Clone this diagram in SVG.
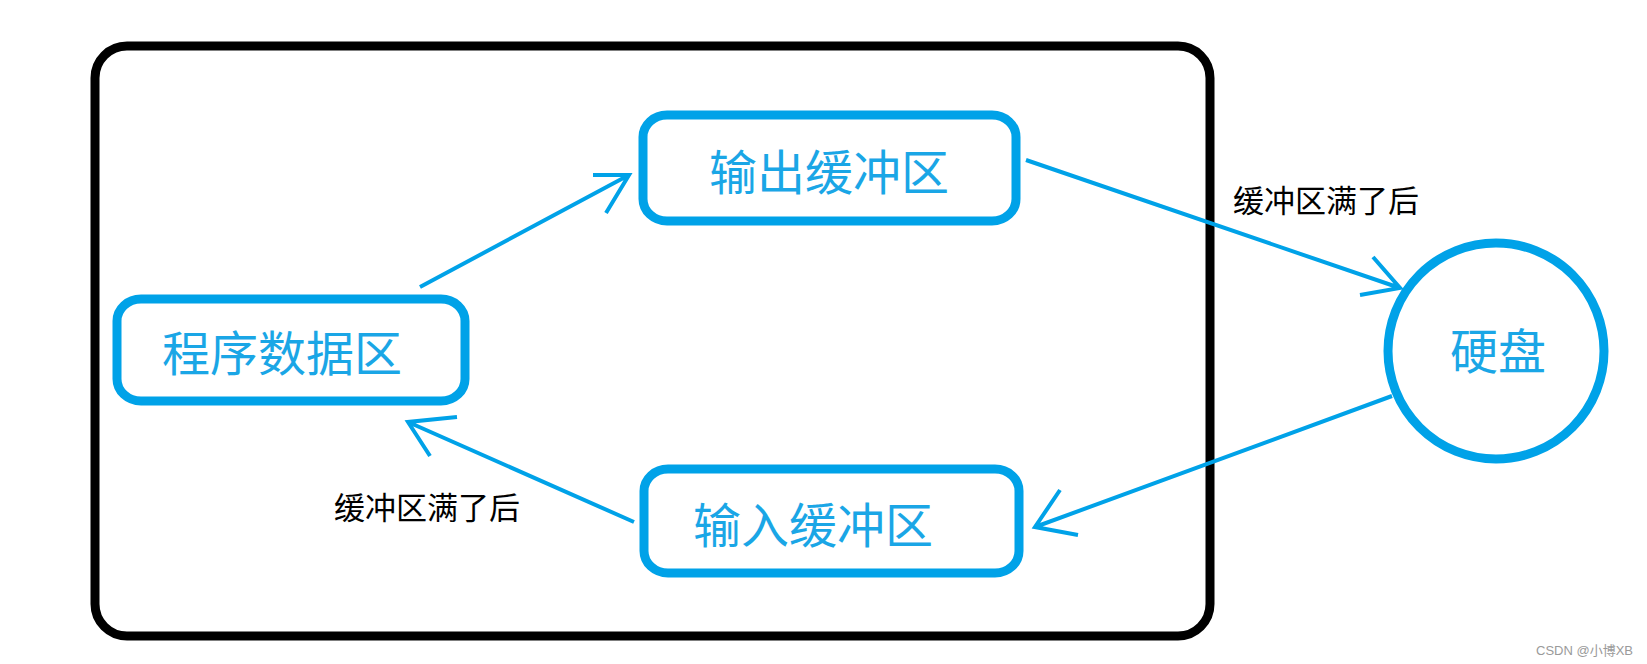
<svg xmlns="http://www.w3.org/2000/svg" width="1647" height="664" viewBox="0 0 1647 664">
<style>
.frame{fill:none;stroke:#000;stroke-width:9}
.node{fill:none;stroke:#00A2E8;stroke-width:9}
.ntext{font-family:"Noto Sans CJK SC",sans-serif;font-size:48px;fill:#1aa6e6;text-anchor:middle}
.lbl{font-family:"Noto Sans CJK SC",sans-serif;font-size:31px;fill:#000;text-anchor:middle}
.conn{fill:none;stroke:#00A2E8;stroke-width:4;stroke-linejoin:miter}
.wm{font-family:"Liberation Sans","Noto Sans CJK SC",sans-serif;font-size:13px;fill:#9a9a9a;text-anchor:end}
</style>
<rect width="1647" height="664" fill="#fff"/>
<rect class="frame" x="95" y="46" width="1115" height="590" rx="32" ry="32"/>
<g id="connectors">
  <path class="conn" d="M420 287 L629 175 M593 175 L629 175 L606 213"/>
  <path class="conn" d="M1026 160 L1400 288 M1373 257 L1400 288 L1360 295"/>
  <path class="conn" d="M1392 396 L1035 527 M1060 490 L1035 527 L1078 535"/>
  <path class="conn" d="M634 522 L408 422 M457 417 L408 422 L430 456"/>
</g>
<g id="node-output">
  <rect class="node" x="643" y="115" width="373" height="106" rx="24" ry="22"/>
  <text class="ntext" x="829" y="190">输出缓冲区</text>
</g>
<g id="node-program">
  <rect class="node" x="117" y="299" width="348" height="102" rx="24" ry="22"/>
  <text class="ntext" x="282" y="371">程序数据区</text>
</g>
<g id="node-input">
  <rect class="node" x="644" y="469" width="375" height="104" rx="24" ry="22"/>
  <text class="ntext" x="813" y="543">输入缓冲区</text>
</g>
<g id="node-disk">
  <circle class="node" cx="1496" cy="351" r="108"/>
  <text class="ntext" x="1498" y="369">硬盘</text>
</g>
<g id="labels">
  <text class="lbl" x="1326" y="212">缓冲区满了后</text>
  <text class="lbl" x="427" y="519">缓冲区满了后</text>
</g>
<text class="wm" x="1633" y="655">CSDN @小博XB</text>
</svg>
